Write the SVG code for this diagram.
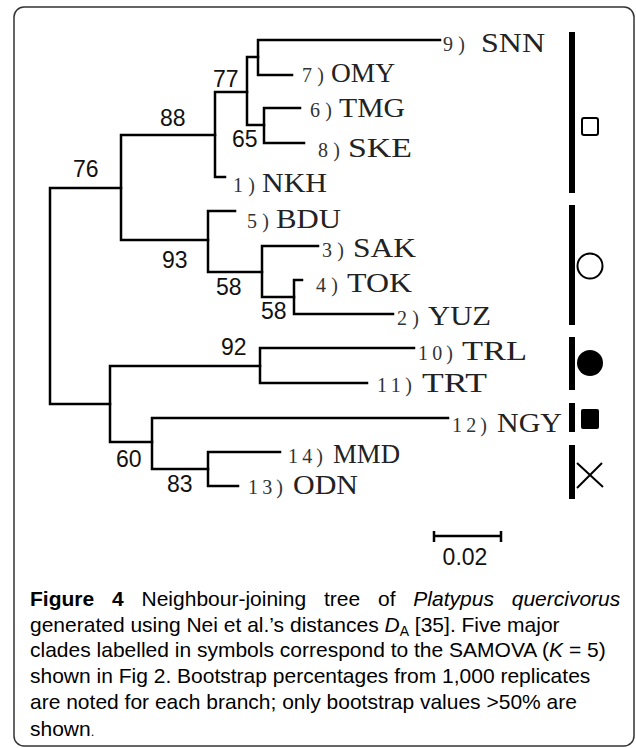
<svg xmlns="http://www.w3.org/2000/svg" width="636" height="748" viewBox="0 0 636 748">
<style>
.br{fill:none;stroke:#000;stroke-width:2.5;stroke-linecap:square;stroke-linejoin:miter}
.pre{font-family:"Liberation Serif",serif;font-size:20px;fill:#333}
.nm{font-family:"Liberation Serif",serif;font-size:27px;fill:#222}
.bs{font-family:"Liberation Sans",Arial,sans-serif;font-size:23px;fill:#111}
.bar{fill:#000}
.sym{stroke:#000;stroke-width:2;fill:#fff}
.cap{font-family:"Liberation Sans",Arial,sans-serif;font-size:21px;fill:#000}
</style>
<rect x="14" y="7" width="620" height="739" rx="10" fill="#fff" stroke="#333" stroke-width="1.5"/>
<g id="connectors">
<path class="br" d="M121,188 H50 V404 H110"/>
<path class="br" d="M215,135 H121 V240 H208"/>
<path class="br" d="M247,92 H215 V177 H225"/>
<path class="br" d="M258,57 H247 V125 H264"/>
<path class="br" d="M440,40 H258 V75 H292"/>
<path class="br" d="M300,108 H264 V143 H304"/>
<path class="br" d="M235,211 H208 V272 H262"/>
<path class="br" d="M318,246 H262 V297 H294"/>
<path class="br" d="M302,280 H294 V314 H393"/>
<path class="br" d="M260,366 H110 V442 H152"/>
<path class="br" d="M414,348 H260 V383 H367"/>
<path class="br" d="M448,418 H152 V469 H208"/>
<path class="br" d="M280,452 H208 V486 H238"/>
</g>
<g id="bootstrap">
<text class="bs" x="73" y="177">76</text>
<text class="bs" x="160" y="126">88</text>
<text class="bs" x="213" y="87">77</text>
<text class="bs" x="232" y="147">65</text>
<text class="bs" x="162" y="268">93</text>
<text class="bs" x="216" y="295">58</text>
<text class="bs" x="261" y="319">58</text>
<text class="bs" x="221" y="355">92</text>
<text class="bs" x="116" y="467">60</text>
<text class="bs" x="167" y="492">83</text>
</g>
<g id="t9"><text class="pre" x="443" y="51" textLength="22" lengthAdjust="spacing">9)</text><text class="nm" x="481" y="52" textLength="64" lengthAdjust="spacingAndGlyphs">SNN</text></g>
<g id="t7"><text class="pre" x="302" y="82" textLength="22" lengthAdjust="spacing">7)</text><text class="nm" x="331" y="82" textLength="64" lengthAdjust="spacingAndGlyphs">OMY</text></g>
<g id="t6"><text class="pre" x="310" y="117" textLength="22" lengthAdjust="spacing">6)</text><text class="nm" x="339" y="117" textLength="66" lengthAdjust="spacingAndGlyphs">TMG</text></g>
<g id="t8"><text class="pre" x="318" y="157" textLength="22" lengthAdjust="spacing">8)</text><text class="nm" x="348" y="157" textLength="64" lengthAdjust="spacingAndGlyphs">SKE</text></g>
<g id="t1"><text class="pre" x="233" y="192" textLength="22" lengthAdjust="spacing">1)</text><text class="nm" x="262" y="192" textLength="65" lengthAdjust="spacingAndGlyphs">NKH</text></g>
<g id="t5"><text class="pre" x="247" y="228" textLength="22" lengthAdjust="spacing">5)</text><text class="nm" x="276" y="228" textLength="65" lengthAdjust="spacingAndGlyphs">BDU</text></g>
<g id="t3"><text class="pre" x="322" y="257" textLength="22" lengthAdjust="spacing">3)</text><text class="nm" x="353" y="257" textLength="63" lengthAdjust="spacingAndGlyphs">SAK</text></g>
<g id="t4"><text class="pre" x="316" y="292" textLength="22" lengthAdjust="spacing">4)</text><text class="nm" x="347" y="292" textLength="65" lengthAdjust="spacingAndGlyphs">TOK</text></g>
<g id="t2"><text class="pre" x="397" y="325" textLength="22" lengthAdjust="spacing">2)</text><text class="nm" x="428" y="325" textLength="63" lengthAdjust="spacingAndGlyphs">YUZ</text></g>
<g id="t10"><text class="pre" x="418" y="360" textLength="35" lengthAdjust="spacing">10)</text><text class="nm" x="462" y="360" textLength="65" lengthAdjust="spacingAndGlyphs">TRL</text></g>
<g id="t11"><text class="pre" x="377" y="392" textLength="35" lengthAdjust="spacing">11)</text><text class="nm" x="422" y="392" textLength="65" lengthAdjust="spacingAndGlyphs">TRT</text></g>
<g id="t12"><text class="pre" x="452" y="432" textLength="35" lengthAdjust="spacing">12)</text><text class="nm" x="497" y="432" textLength="65" lengthAdjust="spacingAndGlyphs">NGY</text></g>
<g id="t14"><text class="pre" x="288" y="463" textLength="35" lengthAdjust="spacing">14)</text><text class="nm" x="333" y="463" textLength="67" lengthAdjust="spacingAndGlyphs">MMD</text></g>
<g id="t13"><text class="pre" x="248" y="494" textLength="35" lengthAdjust="spacing">13)</text><text class="nm" x="293" y="494" textLength="65" lengthAdjust="spacingAndGlyphs">ODN</text></g>
<g id="clade1"><rect class="bar" x="569" y="32" width="6" height="161"/><rect class="sym" x="582" y="118" width="16" height="17" rx="2"/></g>
<g id="clade2"><rect class="bar" x="569" y="205" width="6" height="120"/><circle class="sym" cx="590" cy="266" r="12.5"/></g>
<g id="clade3"><rect class="bar" x="569" y="337" width="6" height="53"/><circle cx="590" cy="363" r="13" fill="#000"/></g>
<g id="clade4"><rect class="bar" x="569" y="403" width="6" height="29"/><rect x="581" y="409" width="18" height="20" rx="2" fill="#000"/></g>
<g id="clade5"><rect class="bar" x="569" y="445" width="6" height="54"/><path d="M577,463 L603,487 M602,463 L577,488" stroke="#000" stroke-width="2" fill="none"/></g>
<g id="scale"><path d="M434,536 H501 M434,531 V542 M501,531 V542" stroke="#000" stroke-width="2.5" fill="none"/><text class="bs" x="465" y="565" text-anchor="middle">0.02</text></g>
<g id="caption">
<text class="cap" x="30" y="606" word-spacing="12"><tspan font-weight="bold">Figure 4</tspan> Neighbour-joining tree of <tspan font-style="italic">Platypus quercivorus</tspan></text>
<text class="cap" x="30" y="632">generated using Nei et al.’s distances <tspan font-style="italic">D</tspan><tspan font-size="14" dy="4">A</tspan><tspan dy="-4"> [35]. Five major</tspan></text>
<text class="cap" x="30" y="657">clades labelled in symbols correspond to the SAMOVA (<tspan font-style="italic">K</tspan> = 5)</text>
<text class="cap" x="30" y="683">shown in Fig 2. Bootstrap percentages from 1,000 replicates</text>
<text class="cap" x="30" y="709">are noted for each branch; only bootstrap values &gt;50% are</text>
<text class="cap" x="30" y="736">shown<tspan font-size="13">.</tspan></text>
</g>
</svg>
